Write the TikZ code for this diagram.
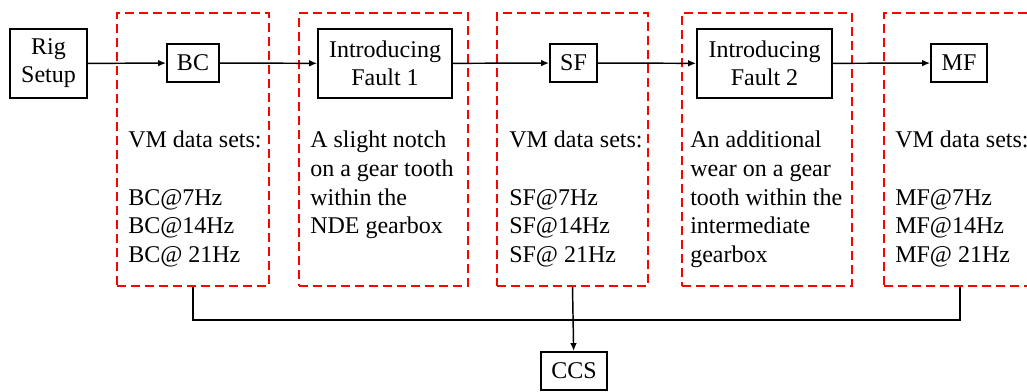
\documentclass[tikz,border=0pt]{standalone}
\usepackage{fontspec}
\setmainfont{Liberation Serif}
\usepackage{tikz}
\usetikzlibrary{arrows.meta, positioning}

\begin{document}
\begin{tikzpicture}[x=0.75pt, y=-0.75pt,
  stage/.style={rectangle, draw, line width=1.4pt, inner sep=0pt, align=center, font=\fontsize{18}{21}\selectfont},
  group/.style={rectangle, draw=red, line width=1.5pt, dash pattern=on 6.5pt off 4pt, inner sep=0pt, minimum width=152*0.75pt, minimum height=273*0.75pt},
  info/.style={anchor=north west, inner sep=0pt, align=left, font=\fontsize{18}{21.5}\selectfont},
  flow/.style={line width=1.1pt, -{Latex[length=6pt, width=5pt]}}]

  \useasboundingbox (0,0) rectangle (1027,392);

  % Dashed groups
  \node[group] (G1) at (193, 149.5) {};
  \node[group, minimum width=169*0.75pt] (G2) at (383.5, 149.5) {};
  \node[group, minimum width=151*0.75pt] (G3) at (572.5, 149.5) {};
  \node[group, minimum width=170*0.75pt] (G4) at (767, 149.5) {};
  \node[group] (G5) at (960, 149.5) {};

  % Stages
  \node[stage, minimum width=77*0.75pt, minimum height=69*0.75pt] (RIG) at (48.5, 63.5) {Rig\\Setup};
  \node[stage, minimum width=52*0.75pt, minimum height=38*0.75pt] (BC) at (193, 63) {BC};
  \node[stage, minimum width=134*0.75pt, minimum height=69*0.75pt] (F1) at (385, 63.5) {Introducing\\Fault 1};
  \node[stage, minimum width=47*0.75pt, minimum height=38*0.75pt] (SF) at (573.5, 63) {SF};
  \node[stage, minimum width=135*0.75pt, minimum height=69*0.75pt] (F2) at (764.5, 63.5) {Introducing\\Fault 2};
  \node[stage, minimum width=56*0.75pt, minimum height=38*0.75pt] (MF) at (959, 63) {MF};
  \node[stage, minimum width=66*0.75pt, minimum height=38*0.75pt] (CCS) at (574, 371) {CCS};

  % Descriptions
  \node[info] (T1) at (128, 131) {VM data sets:\\~\\BC@7Hz\\BC@14Hz\\BC@ 21Hz};
  \node[info] (T2) at (310, 131) {A slight notch\\on a gear tooth\\within the\\NDE gearbox};
  \node[info] (T3) at (509, 131) {VM data sets:\\~\\SF@7Hz\\SF@14Hz\\SF@ 21Hz};
  \node[info] (T4) at (690, 131) {An additional\\wear on a gear\\tooth within the\\intermediate\\gearbox};
  \node[info] (T5) at (895, 131) {VM data sets:\\~\\MF@7Hz\\MF@14Hz\\MF@ 21Hz};

  % Flow
  \draw[flow] (RIG) -- (BC);
  \draw[flow] (BC) -- (F1);
  \draw[flow] (F1) -- (SF);
  \draw[flow] (SF) -- (F2);
  \draw[flow] (F2) -- (MF);

  % Collection
  \coordinate (bus) at (573, 320);
  \draw[line width=1.1pt] (G1.south) |- (bus) -| (G5.south);
  \draw[flow] (G3.south) -- (CCS);

\end{tikzpicture}
\end{document}
